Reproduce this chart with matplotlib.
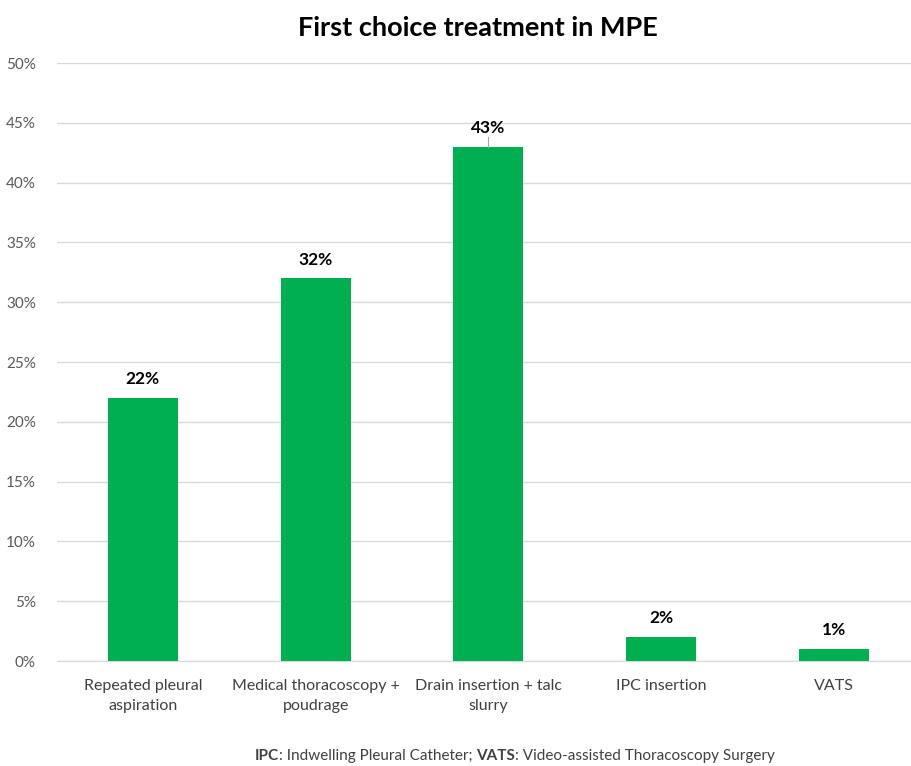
import matplotlib
matplotlib.use('Agg')
import matplotlib.pyplot as plt
from matplotlib.ticker import MultipleLocator, FuncFormatter

categories = ['Repeated pleural\naspiration', 'Medical thoracoscopy +\npoudrage',
              'Drain insertion + talc\nslurry', 'IPC insertion', 'VATS']
shares = [22, 32, 43, 2, 1]

plt.rcParams['font.family'] = ['Lato', 'DejaVu Sans']

fig = plt.figure(figsize=(9.11, 7.66), dpi=100)
ax = fig.add_axes([0.0621, 0.137, 0.948, 0.7807])

x = range(len(categories))
ax.bar(x, shares, width=0.405, color='#00B050', zorder=3)

ax.set_ylim(0, 50)
ax.set_xlim(-0.5, len(categories) - 0.5)
ax.yaxis.set_major_locator(MultipleLocator(5))
ax.yaxis.set_major_formatter(FuncFormatter(lambda v, _: f'{v:.0f}%'))
ax.grid(axis='y', color='#D9D9D9', lw=1, zorder=0)
for s in ['top', 'right', 'left']:
    ax.spines[s].set_visible(False)
ax.spines['bottom'].set_color('#D9D9D9')
ax.tick_params(axis='y', length=0, labelsize=11, labelcolor='#595959', pad=15)
ax.tick_params(axis='x', length=0, labelsize=11.5, labelcolor='#404040', pad=13)
ax.set_xticks(list(x))
ax.set_xticklabels(categories, linespacing=1.55)

# value labels; the tallest one gets a short leader line
for i, v in enumerate(shares):
    if v == max(shares):
        ax.plot([i, i], [v, v + 0.8], color='#A6A6A6', lw=0.8, zorder=4)
    ax.text(i, v + 0.9, f'{v}%', ha='center', va='bottom',
            fontsize=12.5, fontweight='bold', color='black')

fig.text(0.525, 0.963, 'First choice treatment in MPE', ha='center', va='center',
         fontsize=19.5, fontweight='bold', color='black')

# footnote built from pieces so the abbreviations can be bold
parts = [('IPC', 'bold'), (': Indwelling Pleural Catheter; ', 'normal'),
         ('VATS', 'bold'), (': Video-assisted Thoracoscopy Surgery', 'normal')]
renderer = fig.canvas.get_renderer()
texts = []
total = 0
for s, w in parts:
    t = fig.text(0, 0.004, s, ha='left', va='bottom', fontsize=11,
                 fontweight=w, color='#404040')
    texts.append(t)
    total += t.get_window_extent(renderer).width
xpos = 515 - total / 2
for t in texts:
    t.set_x(xpos / fig.bbox.width)
    xpos += t.get_window_extent(renderer).width

fig.savefig('out.png', dpi=100)
